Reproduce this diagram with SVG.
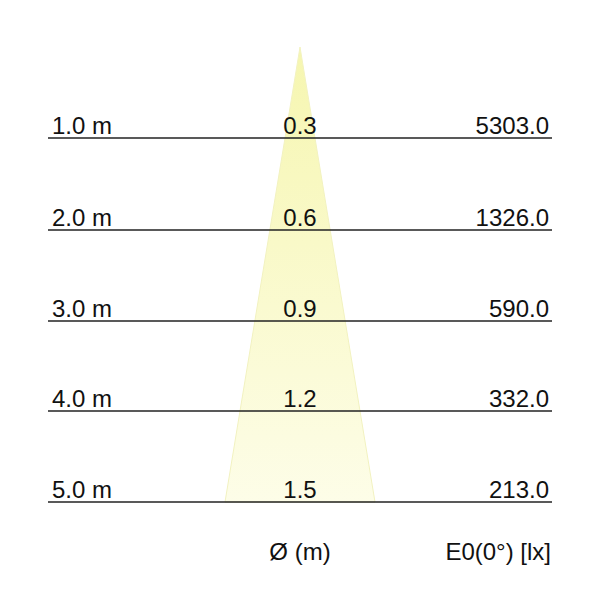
<svg xmlns="http://www.w3.org/2000/svg" width="600" height="600" viewBox="0 0 600 600">
<style>
text{font-family:"Liberation Sans",Arial,sans-serif;font-size:24px;fill:#111}
.l{text-anchor:start}.c{text-anchor:middle}.r{text-anchor:end}
line{stroke:#222;stroke-width:1.5}
</style>
<defs>
<linearGradient id="g" x1="0" y1="0" x2="0" y2="1">
<stop offset="0" stop-color="#f6f6b0"/>
<stop offset="1" stop-color="#fdfde8"/>
</linearGradient>
</defs>
<rect width="600" height="600" fill="#fff"/>
<g id="cone"><polygon points="300,47 375,502 225,502" fill="url(#g)" stroke="#f2f2c0" stroke-width="1"/></g>
<g id="connectors">
<line x1="48" y1="138" x2="552" y2="138"/>
<line x1="48" y1="230" x2="552" y2="230"/>
<line x1="48" y1="321" x2="552" y2="321"/>
<line x1="48" y1="411" x2="552" y2="411"/>
<line x1="48" y1="502" x2="552" y2="502"/>
</g>
<g id="row1"><text class="l" x="52" y="134">1.0 m</text><text class="c" x="300" y="134">0.3</text><text class="r" x="549" y="134">5303.0</text></g>
<g id="row2"><text class="l" x="52" y="226">2.0 m</text><text class="c" x="300" y="226">0.6</text><text class="r" x="549" y="226">1326.0</text></g>
<g id="row3"><text class="l" x="52" y="317">3.0 m</text><text class="c" x="300" y="317">0.9</text><text class="r" x="549" y="317">590.0</text></g>
<g id="row4"><text class="l" x="52" y="407">4.0 m</text><text class="c" x="300" y="407">1.2</text><text class="r" x="549" y="407">332.0</text></g>
<g id="row5"><text class="l" x="52" y="498">5.0 m</text><text class="c" x="300" y="498">1.5</text><text class="r" x="549" y="498">213.0</text></g>
<g id="footer"><text class="c" x="300" y="560">Ø (m)</text><text class="r" x="551" y="560">E0(0°) [lx]</text></g>
</svg>
